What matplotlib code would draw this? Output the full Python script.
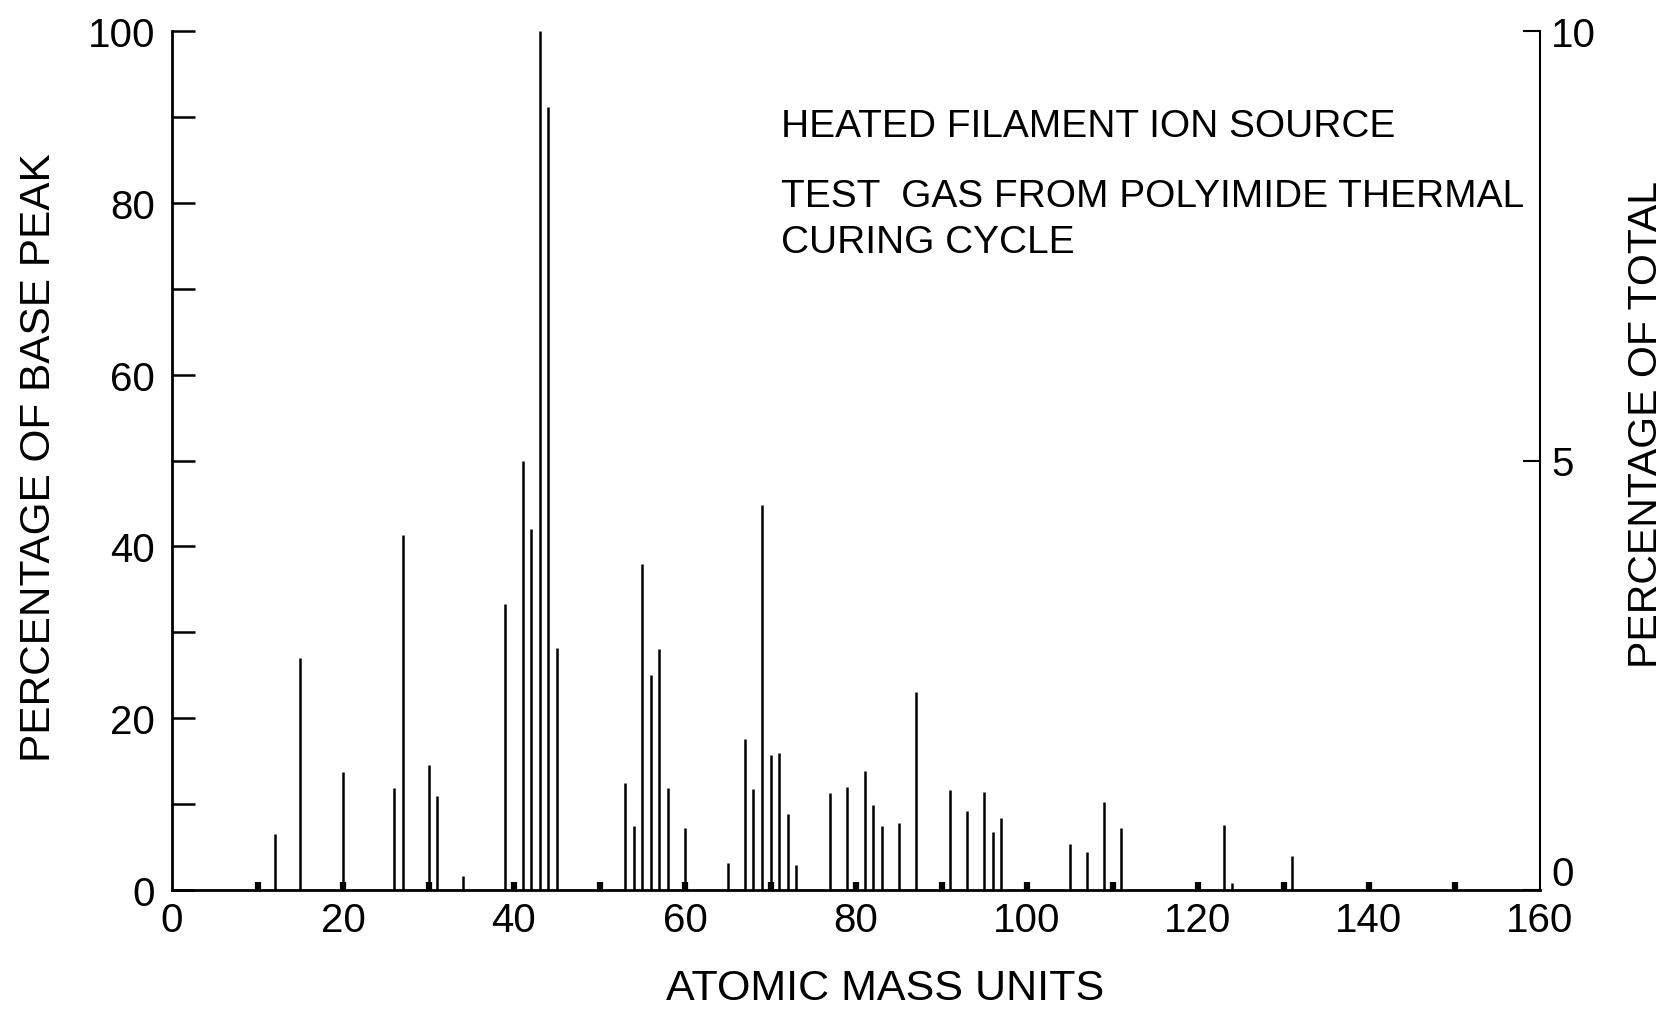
import matplotlib
matplotlib.use("Agg")
import matplotlib.pyplot as plt
import matplotlib.transforms as mtransforms
from matplotlib.ticker import FixedLocator

# ---- data ----
masses = [12, 15, 20, 26, 27, 30, 31, 34, 39, 41, 42, 43, 44, 45,
          53, 54, 55, 56, 57, 58, 60, 65, 67, 68, 69, 70, 71, 72, 73,
          77, 79, 81, 82, 83, 85, 87, 91, 93, 95, 96, 97,
          105, 107, 109, 111, 123, 124, 131]
base_peak_pct = [6.5, 27.0, 13.7, 11.9, 41.3, 14.6, 11.0, 1.6, 33.3, 50.0, 42.0, 100.0, 91.2, 28.2,
                 12.4, 7.4, 38.0, 25.0, 28.1, 11.9, 7.2, 3.2, 17.6, 11.8, 44.8, 15.7, 15.9, 8.8, 2.9,
                 11.3, 12.0, 13.8, 9.9, 7.5, 7.8, 23.1, 11.6, 9.2, 11.4, 6.7, 8.4,
                 5.4, 4.4, 10.2, 7.2, 7.6, 0.8, 4.0]
x_tick_values = [0, 20, 40, 60, 80, 100, 120, 140, 160]
x_tick_labels = ["0", "20", "40", "60", "80", "100", "120", "140", "160"]
x_marker_values = [10, 20, 30, 40, 50, 60, 70, 80, 90, 100, 110, 120, 130, 140, 150]
left_tick_values = [0, 20, 40, 60, 80, 100]
left_minor_values = [10, 30, 50, 70, 90]
left_tick_labels = ["0", "20", "40", "60", "80", "100"]
right_tick_values = [0, 5, 10]
right_tick_labels = ["0", "5", "10"]
annotation_lines = ["HEATED FILAMENT ION SOURCE",
                    "TEST  GAS FROM POLYIMIDE THERMAL",
                    "CURING CYCLE"]

plt.rcParams['font.family'] = ['Liberation Sans', 'DejaVu Sans']

W, H = 1671, 1012
fig = plt.figure(figsize=(W / 100, H / 100), dpi=100)
fig.patch.set_facecolor("white")

left, right, bottom, top = 172, 1540, 891, 32
ax = fig.add_axes([left / W, 1 - bottom / H, (right - left) / W, (bottom - top) / H])

ax.vlines(masses, 0, base_peak_pct, colors="black", linewidth=1.8)

ax.set_xlim(0, 160)
ax.set_ylim(0, 100)

for s in ("top", "right"):
    ax.spines[s].set_visible(False)
ax.spines["left"].set_linewidth(2.0)
ax.spines["bottom"].set_linewidth(2.0)

# x axis: labels every 20 (no tick), small bumps every 10 amu
ax.xaxis.remove_overlapping_locs = False
ax.xaxis.set_major_locator(FixedLocator(x_tick_values))
ax.set_xticklabels(x_tick_labels)
ax.xaxis.set_minor_locator(FixedLocator(x_marker_values))
ax.tick_params(axis="x", which="major", direction="in", length=0,
               labelsize=29, pad=8)
ax.tick_params(axis="x", which="minor", direction="in", length=5.5, width=4.5)

# left y axis
ax.yaxis.set_major_locator(FixedLocator(left_tick_values))
ax.set_yticklabels(left_tick_labels)
ax.yaxis.set_minor_locator(FixedLocator(left_minor_values))
ax.tick_params(axis="y", which="both", direction="in", length=16.5, width=1.8,
               labelsize=29, pad=12)

# right y axis
ax2 = ax.twinx()
ax2.set_ylim(0, 10)
for s in ("top", "left", "bottom"):
    ax2.spines[s].set_visible(False)
ax2.spines["right"].set_linewidth(1.5)
ax2.yaxis.set_major_locator(FixedLocator(right_tick_values))
ax2.set_yticklabels(right_tick_labels)
ax2.tick_params(axis="y", direction="in", length=12, width=1.5, labelsize=29, pad=8)
# lift the right-hand "0" so it sits above the "160" label, as in the reference
zero_label = ax2.get_yticklabels()[0]
zero_label.set_transform(zero_label.get_transform() +
                         mtransforms.ScaledTranslation(0, 0.2, fig.dpi_scale_trans))

# axis titles
fig.text(39 / W, 1 - 458 / H, "PERCENTAGE OF BASE PEAK", rotation=90,
         ha="center", va="center", fontsize=30.5)
fig.text(1646 / W, 1 - 425 / H, "PERCENTAGE OF TOTAL", rotation=90,
         ha="center", va="center", fontsize=29.5)
fig.text(885 / W, 1 - 989 / H, "ATOMIC MASS UNITS",
         ha="center", va="center", fontsize=31)

# annotation
for line, yc in zip(annotation_lines, [127, 197, 243]):
    fig.text(781 / W, 1 - yc / H, line, ha="left", va="center", fontsize=28)

fig.savefig("out.png", dpi=100, facecolor="white")
